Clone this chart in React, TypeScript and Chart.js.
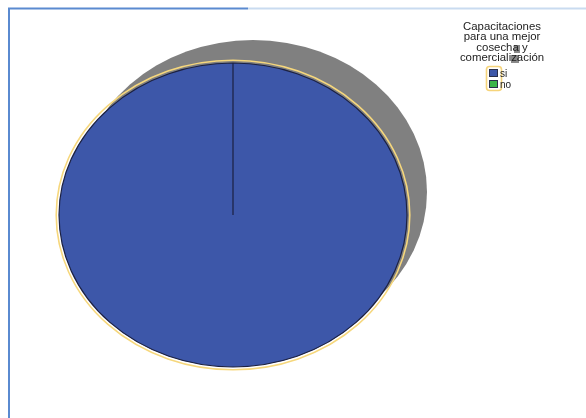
import React, { useEffect, useRef } from "react";
import { Chart, registerables } from "chart.js";

Chart.register(...registerables);

const categories = ["si", "no"];
const values = [100, 0];
const sliceColors = ["#3d57a9", "#3bb449"];
const legendTitle = ["Capacitaciones", "para una mejor", "cosecha y", "comercialización"];

const SQUASH = 152 / 174;

const pieStyle = {
  id: "pieStyle",
  beforeDraw(chart: any) {
    const ctx = chart.ctx;
    ctx.save();
    ctx.fillStyle = "#ffffff";
    ctx.fillRect(0, 0, chart.width, chart.height);
    ctx.lineWidth = 2;
    ctx.strokeStyle = "#c9dbf0";
    ctx.beginPath();
    ctx.moveTo(248, 8.5);
    ctx.lineTo(chart.width, 8.5);
    ctx.stroke();
    ctx.strokeStyle = "#5a8ad0";
    ctx.beginPath();
    ctx.moveTo(9, chart.height);
    ctx.lineTo(9, 8.5);
    ctx.lineTo(248, 8.5);
    ctx.stroke();
    ctx.restore();
  },
  beforeDatasetsDraw(chart: any) {
    const ctx = chart.ctx;
    const arc = chart.getDatasetMeta(0).data[0];
    const { x, y, outerRadius } = arc.getProps(["x", "y", "outerRadius"], true);
    const ry = outerRadius * SQUASH;
    ctx.save();
    ctx.fillStyle = "#808080";
    ctx.beginPath();
    ctx.ellipse(x + 20, y - 23, outerRadius, ry, 0, 0, Math.PI * 2);
    ctx.fill();
    ctx.restore();
    ctx.save();
    ctx.translate(x, y);
    ctx.scale(1, SQUASH);
    ctx.translate(-x, -y);
  },
  afterDatasetsDraw(chart: any) {
    const ctx = chart.ctx;
    ctx.restore();
    const arc = chart.getDatasetMeta(0).data[0];
    const { x, y, outerRadius } = arc.getProps(["x", "y", "outerRadius"], true);
    const ry = outerRadius * SQUASH;
    ctx.save();
    ctx.strokeStyle = "#f6d77c";
    ctx.lineWidth = 1.6;
    ctx.beginPath();
    ctx.ellipse(x, y, outerRadius + 2.8, ry + 2.8, 0, 0, Math.PI * 2);
    ctx.stroke();
    ctx.restore();
  },
  afterDraw(chart: any) {
    const ctx = chart.ctx;
    const labels = chart.data.labels as string[];
    const colors = chart.data.datasets[0].backgroundColor as string[];
    ctx.save();
    ctx.fillStyle = "#8a8a8a";
    ctx.fillRect(514, 45, 6, 8);
    ctx.fillRect(511, 55, 8, 8);
    ctx.fillStyle = "#222222";
    ctx.font = '11.4px "Liberation Sans", Arial, sans-serif';
    ctx.textAlign = "center";
    ctx.textBaseline = "alphabetic";
    legendTitle.forEach((line, i) => {
      ctx.fillText(line, 502, 30 + i * 10.4);
    });
    ctx.strokeStyle = "#f6d47a";
    ctx.lineWidth = 1.6;
    ctx.beginPath();
    (ctx as any).roundRect(486.5, 66.5, 15, 24, 3);
    ctx.stroke();
    ctx.font = '10px "Liberation Sans", Arial, sans-serif';
    ctx.textAlign = "left";
    labels.forEach((lab, i) => {
      const by = 69 + i * 11;
      ctx.fillStyle = colors[i];
      ctx.fillRect(489, by, 9, 8);
      ctx.strokeStyle = "#2a2f4a";
      ctx.lineWidth = 1;
      ctx.strokeRect(489.5, by + 0.5, 8, 7);
      ctx.fillStyle = "#222222";
      ctx.fillText(lab, 500, by + 8);
    });
    ctx.restore();
  },
};

export default function App() {
  const ref = useRef<HTMLCanvasElement | null>(null);
  useEffect(() => {
    if (!ref.current) return;
    const chart = new Chart(ref.current, {
      type: "pie",
      data: {
        labels: categories,
        datasets: [
          {
            data: values,
            backgroundColor: sliceColors,
            borderColor: "#1c2142",
            borderWidth: 1.2,
          },
        ],
      },
      options: {
        responsive: false,
        animation: false,
        radius: 174,
        layout: { padding: { left: 0, right: 120, top: 12, bottom: 0 } },
        plugins: {
          legend: { display: false },
          tooltip: { enabled: false },
        },
      } as any,
      plugins: [pieStyle],
    });
    return () => chart.destroy();
  }, []);
  return (
    <div style={{ position: "fixed", left: 0, top: 0, width: 586, height: 418 }}>
      <canvas ref={ref} width={586} height={418} style={{ display: "block" }} />
    </div>
  );
}
